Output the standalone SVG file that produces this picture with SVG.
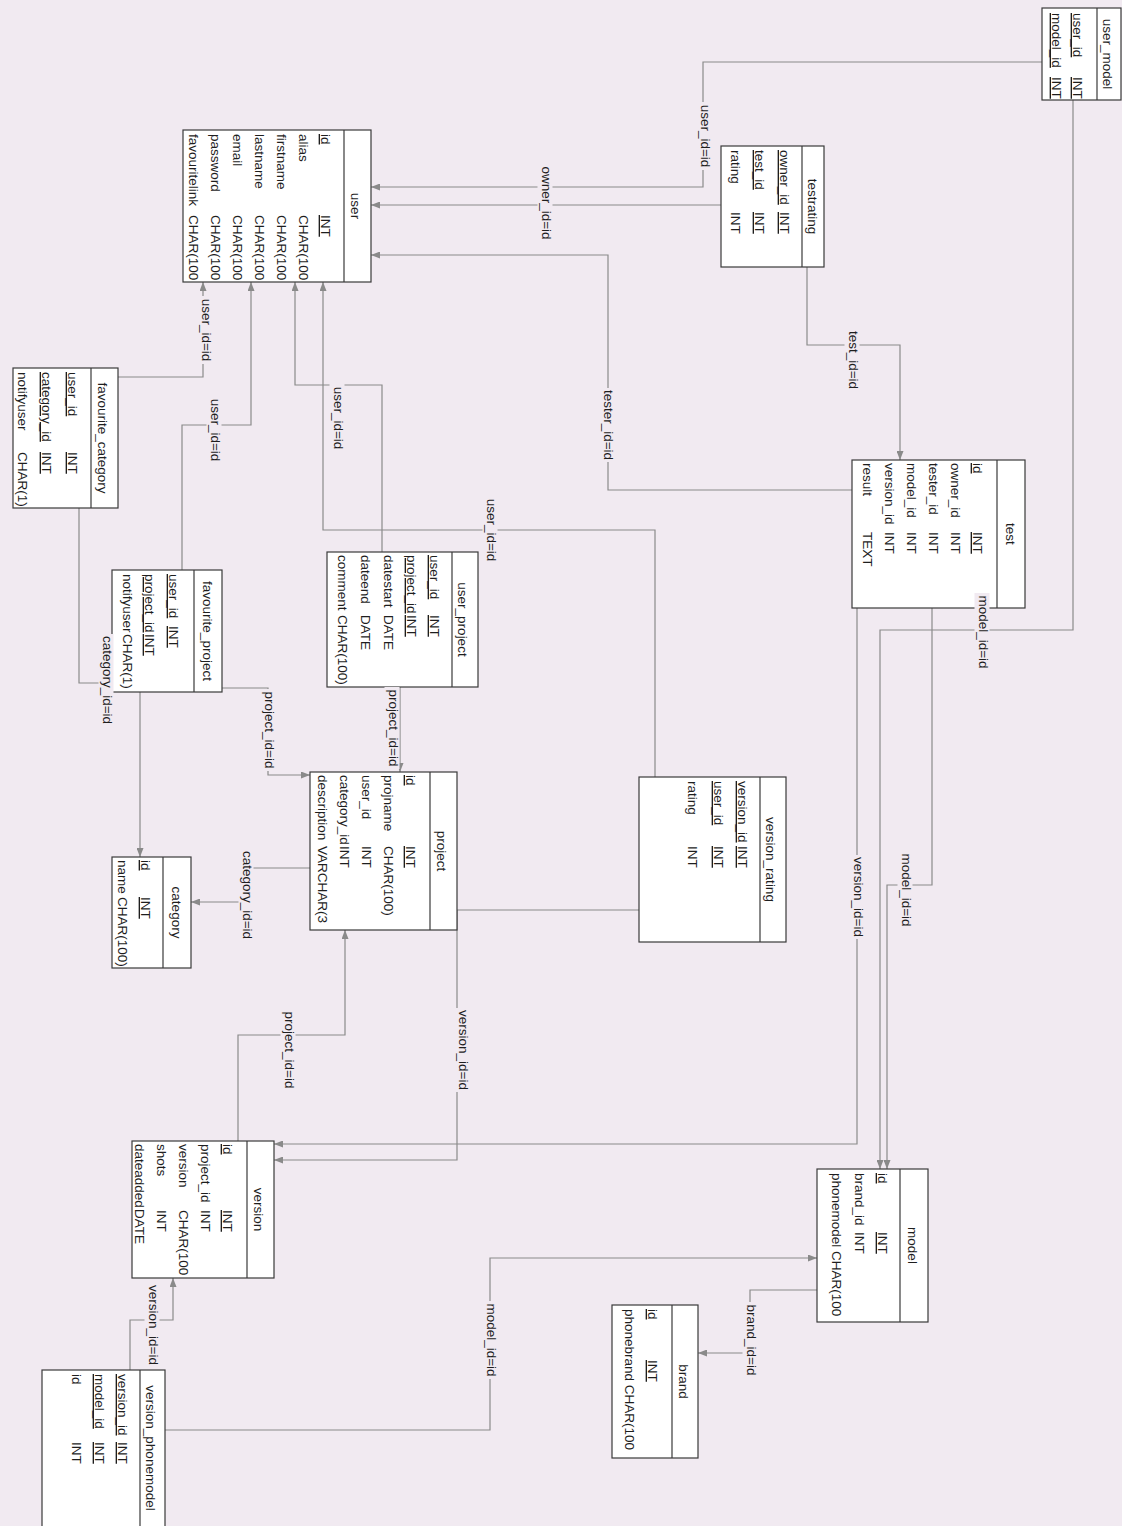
<svg xmlns="http://www.w3.org/2000/svg" width="1122" height="1526" viewBox="0 0 1122 1526">
<style>
.bg{fill:#F1EAF1}
.box{fill:#fff;stroke:#3a3a3a;stroke-width:1.2}
.dv{stroke:#3a3a3a;stroke-width:1.2}
text{font-family:"Liberation Sans",Arial,sans-serif;font-size:13.5px;fill:#1e1e1e}
.pk{text-decoration:underline}
.hd{text-anchor:middle}
.cn{fill:none;stroke:#8a8a8a;stroke-width:1.2;marker-end:url(#arr)}
.lb rect{fill:#F1EAF1}
.lb text{text-anchor:middle}
</style>
<defs>
<marker id="arr" viewBox="0 0 9 7" refX="9" refY="3.5" markerWidth="9" markerHeight="7" markerUnits="userSpaceOnUse" orient="auto"><path d="M0,0 L9,3.5 L0,7 z" fill="#8a8a8a"/></marker>
</defs>
<rect class="bg" x="0" y="0" width="1122" height="1526"/>

<g id="connectors">
<path class="cn" d="M1042,62 H703 V187 H371"/>
<path class="cn" d="M721,205 H371"/>
<path class="cn" d="M852,490 H608 V255 H371"/>
<path class="cn" d="M807,267 V345 H900 V460"/>
<path class="cn" d="M1073,100 V630 H880 V1169"/>
<path class="cn" d="M932,608 V885 H887 V1169"/>
<path class="cn" d="M857,608 V1144 H274"/>
<path class="cn" d="M639,910 H457 V1160 H274"/>
<path class="cn" d="M655,777 V530 H323 V282"/>
<path class="cn" d="M382,552 V385 H295 V282"/>
<path class="cn" d="M118,377 H203 V282"/>
<path class="cn" d="M182,570 V425 H251 V282"/>
<path class="cn" d="M79,508 V683 H140 V857"/>
<path class="cn" d="M222,688 H268 V775 H310"/>
<path class="cn" d="M400,687 V772"/>
<path class="cn" d="M310,868 H246 V902 H191"/>
<path class="cn" d="M238,1141 V1035 H345 V930"/>
<path class="cn" d="M130,1370 V1320 H173 V1278"/>
<path class="cn" d="M165,1430 H490 V1258 H817"/>
<path class="cn" d="M817,1290 H750 V1353 H698"/>
</g>

<g id="user_model" transform="translate(1121,8) rotate(90)">
<rect class="box" x="0" y="0" width="92" height="79"/>
<line class="dv" x1="0" y1="24" x2="92" y2="24"/>
<text class="hd" x="46" y="18">user_model</text>
<text class="pk" x="5" y="48">user_id</text><text class="pk" x="69" y="48">INT</text>
<text class="pk" x="5" y="69">model_id</text><text class="pk" x="69" y="69">INT</text>
</g>

<g id="testrating" transform="translate(824,146) rotate(90)">
<rect class="box" x="0" y="0" width="121" height="103"/>
<line class="dv" x1="0" y1="22" x2="121" y2="22"/>
<text class="hd" x="60.5" y="16">testrating</text>
<text class="pk" x="4" y="44">owner_id</text><text class="pk" x="66" y="44">INT</text>
<text class="pk" x="4" y="69">test_id</text><text class="pk" x="66" y="69">INT</text>
<text x="4" y="93">rating</text><text x="66" y="93">INT</text>
</g>

<g id="user" transform="translate(371,130) rotate(90)">
<rect class="box" x="0" y="0" width="152" height="188"/>
<line class="dv" x1="0" y1="27" x2="152" y2="27"/>
<text class="hd" x="76" y="20">user</text>
<text class="pk" x="4" y="50">id</text><text class="pk" x="85" y="50">INT</text>
<text x="4" y="72">alias</text><text x="85" y="72">CHAR(100</text>
<text x="4" y="94">firstname</text><text x="85" y="94">CHAR(100</text>
<text x="4" y="116">lastname</text><text x="85" y="116">CHAR(100</text>
<text x="4" y="138">email</text><text x="85" y="138">CHAR(100</text>
<text x="4" y="160">password</text><text x="85" y="160">CHAR(100</text>
<text x="4" y="182">favouritelink</text><text x="85" y="182">CHAR(100</text>
</g>

<g id="favourite_category" transform="translate(118,368) rotate(90)">
<rect class="box" x="0" y="0" width="140" height="105"/>
<line class="dv" x1="0" y1="27" x2="140" y2="27"/>
<text class="hd" x="70" y="20">favourite_category</text>
<text class="pk" x="4" y="50">user_id</text><text class="pk" x="84" y="50">INT</text>
<text class="pk" x="4" y="76">category_id</text><text class="pk" x="84" y="76">INT</text>
<text x="4" y="100">notifyuser</text><text x="84" y="100">CHAR(1)</text>
</g>

<g id="favourite_project" transform="translate(222,570) rotate(90)">
<rect class="box" x="0" y="0" width="122" height="110"/>
<line class="dv" x1="0" y1="28" x2="122" y2="28"/>
<text class="hd" x="61" y="19">favourite_project</text>
<text class="pk" x="4" y="53">user_id</text><text class="pk" x="56" y="53">INT</text>
<text class="pk" x="4" y="77">project_id</text><text class="pk" x="64" y="77">INT</text>
<text x="4" y="99">notifyuser</text><text x="64" y="99">CHAR(1)</text>
</g>

<g id="user_project" transform="translate(478,552) rotate(90)">
<rect class="box" x="0" y="0" width="135" height="151"/>
<line class="dv" x1="0" y1="26" x2="135" y2="26"/>
<text class="hd" x="67.5" y="20">user_project</text>
<text class="pk" x="3" y="48">user_id</text><text class="pk" x="63" y="48">INT</text>
<text class="pk" x="3" y="71">project_id</text><text class="pk" x="63" y="71">INT</text>
<text x="3" y="94">datestart</text><text x="63" y="94">DATE</text>
<text x="3" y="117">dateend</text><text x="63" y="117">DATE</text>
<text x="3" y="140">comment</text><text x="63" y="140">CHAR(100)</text>
</g>

<g id="test" transform="translate(1025,460) rotate(90)">
<rect class="box" x="0" y="0" width="148" height="173"/>
<line class="dv" x1="0" y1="28" x2="148" y2="28"/>
<text class="hd" x="74" y="19">test</text>
<text class="pk" x="3" y="52">id</text><text class="pk" x="72" y="52">INT</text>
<text x="3" y="74">owner_id</text><text x="72" y="74">INT</text>
<text x="3" y="96">tester_id</text><text x="72" y="96">INT</text>
<text x="3" y="118">model_id</text><text x="72" y="118">INT</text>
<text x="3" y="140">version_id</text><text x="72" y="140">INT</text>
<text x="3" y="162">result</text><text x="72" y="162">TEXT</text>
</g>

<g id="version_rating" transform="translate(786,777) rotate(90)">
<rect class="box" x="0" y="0" width="165" height="147"/>
<line class="dv" x1="0" y1="26" x2="165" y2="26"/>
<text class="hd" x="82.5" y="20">version_rating</text>
<text class="pk" x="4" y="48">version_id</text><text class="pk" x="69" y="48">INT</text>
<text class="pk" x="4" y="72">user_id</text><text class="pk" x="69" y="72">INT</text>
<text x="4" y="98">rating</text><text x="69" y="98">INT</text>
</g>

<g id="project" transform="translate(457,772) rotate(90)">
<rect class="box" x="0" y="0" width="158" height="147"/>
<line class="dv" x1="0" y1="27" x2="158" y2="27"/>
<text class="hd" x="79" y="20">project</text>
<text class="pk" x="3" y="51">id</text><text class="pk" x="74" y="51">INT</text>
<text x="3" y="73">projname</text><text x="74" y="73">CHAR(100)</text>
<text x="3" y="95">user_id</text><text x="74" y="95">INT</text>
<text x="3" y="117">category_id</text><text x="74" y="117">INT</text>
<text x="3" y="139">description</text><text x="74" y="139">VARCHAR(3</text>
</g>

<g id="category" transform="translate(191,857) rotate(90)">
<rect class="box" x="0" y="0" width="111" height="79"/>
<line class="dv" x1="0" y1="28" x2="111" y2="28"/>
<text class="hd" x="55.5" y="19">category</text>
<text class="pk" x="3" y="50">id</text><text class="pk" x="40" y="50">INT</text>
<text x="3" y="73">name</text><text x="40" y="73">CHAR(100)</text>
</g>

<g id="version" transform="translate(274,1141) rotate(90)">
<rect class="box" x="0" y="0" width="137" height="142"/>
<line class="dv" x1="0" y1="27" x2="137" y2="27"/>
<text class="hd" x="68.5" y="20">version</text>
<text class="pk" x="3" y="51">id</text><text class="pk" x="69" y="51">INT</text>
<text x="3" y="73">project_id</text><text x="69" y="73">INT</text>
<text x="3" y="95">version</text><text x="69" y="95">CHAR(100</text>
<text x="3" y="117">shots</text><text x="69" y="117">INT</text>
<text x="3" y="139">dateadded</text><text x="68" y="139">DATE</text>
</g>

<g id="model" transform="translate(928,1169) rotate(90)">
<rect class="box" x="0" y="0" width="153" height="111"/>
<line class="dv" x1="0" y1="28" x2="153" y2="28"/>
<text class="hd" x="76.5" y="20">model</text>
<text class="pk" x="4" y="50">id</text><text class="pk" x="63" y="50">INT</text>
<text x="4" y="73">brand_id</text><text x="63" y="73">INT</text>
<text x="4" y="96">phonemodel CHAR(100</text>
</g>

<g id="brand" transform="translate(698,1305) rotate(90)">
<rect class="box" x="0" y="0" width="153" height="86"/>
<line class="dv" x1="0" y1="26" x2="153" y2="26"/>
<text class="hd" x="76.5" y="19">brand</text>
<text class="pk" x="4" y="50">id</text><text class="pk" x="55" y="50">INT</text>
<text x="4" y="73">phonebrand CHAR(100</text>
</g>

<g id="version_phonemodel" transform="translate(165,1370) rotate(90)">
<rect class="box" x="0" y="0" width="160" height="123"/>
<line class="dv" x1="0" y1="25" x2="160" y2="25"/>
<text class="hd" x="78" y="19">version_phonemodel</text>
<text class="pk" x="4" y="47">version_id</text><text class="pk" x="72" y="47">INT</text>
<text class="pk" x="4" y="70">model_id</text><text class="pk" x="72" y="70">INT</text>
<text x="4" y="93">id</text><text x="72" y="93">INT</text>
</g>

<g id="labels">
<g class="lb" transform="translate(700.5,136) rotate(90)"><rect x="-34" y="-11" width="68" height="15"/><text>user_id=id</text></g>
<g class="lb" transform="translate(541.5,203) rotate(90)"><rect x="-39" y="-11" width="78" height="15"/><text>owner_id=id</text></g>
<g class="lb" transform="translate(603.5,425) rotate(90)"><rect x="-37" y="-11" width="74" height="15"/><text>tester_id=id</text></g>
<g class="lb" transform="translate(848.5,360) rotate(90)"><rect x="-31" y="-11" width="62" height="15"/><text>test_id=id</text></g>
<g class="lb" transform="translate(978.5,632) rotate(90)"><rect x="-39" y="-11" width="78" height="15"/><text>model_id=id</text></g>
<g class="lb" transform="translate(901.5,890) rotate(90)"><rect x="-39" y="-11" width="78" height="15"/><text>model_id=id</text></g>
<g class="lb" transform="translate(853.5,897) rotate(90)"><rect x="-42" y="-11" width="84" height="15"/><text>version_id=id</text></g>
<g class="lb" transform="translate(458.5,1050) rotate(90)"><rect x="-42" y="-11" width="84" height="15"/><text>version_id=id</text></g>
<g class="lb" transform="translate(486.5,530) rotate(90)"><rect x="-34" y="-11" width="68" height="15"/><text>user_id=id</text></g>
<g class="lb" transform="translate(333.5,418) rotate(90)"><rect x="-34" y="-11" width="68" height="15"/><text>user_id=id</text></g>
<g class="lb" transform="translate(201.5,330) rotate(90)"><rect x="-34" y="-11" width="68" height="15"/><text>user_id=id</text></g>
<g class="lb" transform="translate(210.5,430) rotate(90)"><rect x="-34" y="-11" width="68" height="15"/><text>user_id=id</text></g>
<g class="lb" transform="translate(102.5,680) rotate(90)"><rect x="-46" y="-11" width="92" height="15"/><text>category_id=id</text></g>
<g class="lb" transform="translate(264.5,730) rotate(90)"><rect x="-41" y="-11" width="82" height="15"/><text>project_id=id</text></g>
<g class="lb" transform="translate(388.5,728) rotate(90)"><rect x="-41" y="-11" width="82" height="15"/><text>project_id=id</text></g>
<g class="lb" transform="translate(242.5,895) rotate(90)"><rect x="-46" y="-11" width="92" height="15"/><text>category_id=id</text></g>
<g class="lb" transform="translate(284.5,1050) rotate(90)"><rect x="-41" y="-11" width="82" height="15"/><text>project_id=id</text></g>
<g class="lb" transform="translate(148.5,1325) rotate(90)"><rect x="-42" y="-11" width="84" height="15"/><text>version_id=id</text></g>
<g class="lb" transform="translate(486.5,1340) rotate(90)"><rect x="-39" y="-11" width="78" height="15"/><text>model_id=id</text></g>
<g class="lb" transform="translate(746.5,1340) rotate(90)"><rect x="-38" y="-11" width="76" height="15"/><text>brand_id=id</text></g>
</g>
</svg>
